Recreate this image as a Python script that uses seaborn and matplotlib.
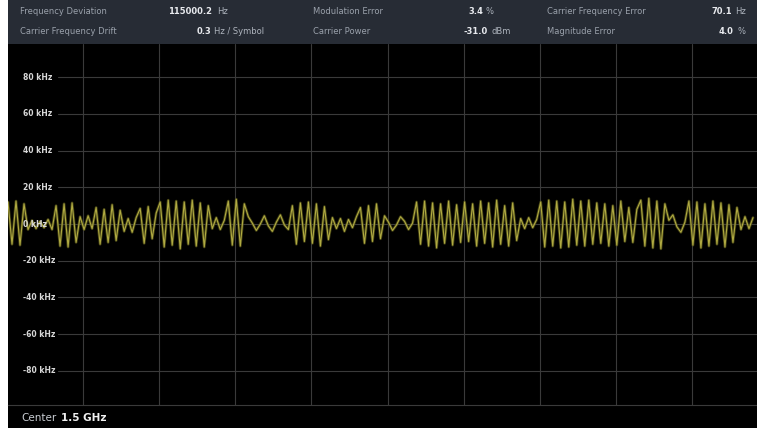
import numpy as np
import pandas as pd
import matplotlib.pyplot as plt
import seaborn as sns

# =========================
# DATA
# =========================
# header measurements: (label, value, unit)
header_row1 = [
    ("Frequency Deviation", "115000.2", "Hz"),
    ("Modulation Error", "3.4", "%"),
    ("Carrier Frequency Error", "70.1", "Hz"),
]
header_row2 = [
    ("Carrier Frequency Drift", "0.3", "Hz / Symbol"),
    ("Carrier Power", "-31.0", "dBm"),
    ("Magnitude Error", "4.0", "%"),
]

y_ticks_khz = [80, 60, 40, 20, 0, -20, -40, -60, -80]
y_tick_labels = ["80 kHz", "60 kHz", "40 kHz", "20 kHz", "0 kHz",
                 "-20 kHz", "-40 kHz", "-60 kHz", "-80 kHz"]

center_label = "Center"
center_value = "1.5 GHz"

# frequency deviation trace, one value per symbol (kHz)
deviation_khz = [
    12, -11, 12.5, -11.5, 11,
    -3, 2, -2.5, 1.5, -2, 2.5, -3,
    10, -12, 11, -12.5, 11.5, -10,
    4, -3, 4.5, -2.5,
    9, -11, 8, -10, 10.5, -9, 7.5,
    -4, 3, -4.5, 3.5,
    8.5, -10.5, 9.5, -8, 6,
    12, -12.5, 13, -11.5, 12.5, -13.5, 12, -11, 13, -12, 11.5, -12.5, 10,
    -2.5, 3.5, -3, 2,
    12.5, -11.5, 13.5, -12, 11,
    4, 0.5, -3.5, 0, 4.5, -1, -4, 1, 5, -0.5, -3,
    10, -11, 11.5, -9.5, 12, -10.5, 11, -12, 9.5, -8.5,
    3.5, -2.5, 3, -4, 2.5, -2, 4,
    9, -10.5, 10, -9.5, 11, -8,
    4.5, 1, -3.5, -0.5, 4, 1.5, -3, 0.5,
    12, -11, 12.5, -12, 11.5, -13, 11, -10.5, 12.5, -11.5, 10.5, -10, 12, -9.5,
    11, -12, 12.5, -10.5, 11.5, -12.5, 13, -11, 10, -12, 11.5, -9,
    3, -2.5, 3.5, -2, 2.5,
    12, -12.5, 13, -12, 12.5, -13, 12, -12.5, 13.5, -11.5, 12.5, -12, 13, -11, 11.5,
    -10.5, 11, -12, 10, -11.5, 12.5, -9.5, 9, -10, 8,
    13, -12, 14, -13, 12.5, -13.5, 11,
    2, 5, -1.5, -4.5, 1,
    12.5, -11.5, 12, -13, 11, -12, 12.5, -11, 11.5, -12.5, 10.5, -10, 9,
    -3, 4, -2.5, 3.5,
]

df = pd.DataFrame({"symbol": np.arange(len(deviation_khz)),
                   "deviation": deviation_khz})

# =========================
# FIGURE
# =========================
sns.set_theme(style="dark")
plt.rcParams["font.family"] = ["DejaVu Sans"]

W, H = 757, 428
fig = plt.figure(figsize=(W / 100, H / 100), dpi=100, facecolor="white")


def fx(px):
    return px / W


def fy(py):
    return 1 - py / H


# dark panel background + header strip
bg = fig.add_axes([fx(8), 0, 1 - fx(8), 1])
bg.set_axis_off()
bg.set_xlim(0, 1)
bg.set_ylim(0, 1)
bg.add_patch(plt.Rectangle((0, 0), 1, 1, color="black"))
bg.add_patch(plt.Rectangle((0, fy(44)), 1, 1 - fy(44), color="#272c35"))

# header text
label_x = [20, 313, 547]
value_x = [(168, 217), (468, 486), (712, 735)]
value_x2 = [(197, 214), (463, 491), (719, 738)]
for row, ypx, vx in [(header_row1, 12, value_x), (header_row2, 32, value_x2)]:
    for (lab, val, unit), lx, (nx, ux) in zip(row, label_x, vx):
        fig.text(fx(lx), fy(ypx), lab, color="#9aa1ab", fontsize=6,
                 va="center", ha="left")
        fig.text(fx(nx), fy(ypx), val, color="#e8eaee", fontsize=6,
                 fontweight="bold", va="center", ha="left")
        fig.text(fx(ux), fy(ypx), unit, color="#aeb4bd", fontsize=6,
                 va="center", ha="left")

# =========================
# PLOT
# =========================
ax = fig.add_axes([fx(8), fy(405), fx(757 - 8), (405 - 44) / H])
ax.set_facecolor("black")

sns.lineplot(data=df, x="symbol", y="deviation", ax=ax,
             color="#5c5a1a", linewidth=2.0, alpha=0.7)
sns.lineplot(data=df, x="symbol", y="deviation", ax=ax,
             color="#b0aa42", linewidth=0.8)

ax.set_xlim(0, len(deviation_khz))
ax.set_ylim(-98.6, 98.1)

# grid
ax.set_xticks(np.arange(18.75, len(deviation_khz), 19))
ax.set_yticks([])
ax.grid(False)
for xv in ax.get_xticks():
    ax.axvline(xv, color="#3a3a3a", linewidth=0.8, zorder=0)
for yv in y_ticks_khz:
    ax.axhline(yv, xmin=0.067, color="#3a3a3a", linewidth=0.8, zorder=0)
ax.tick_params(length=0, labelbottom=False, labelleft=False)
ax.set_xlabel("")
ax.set_ylabel("")

for yv, lab in zip(y_ticks_khz, y_tick_labels):
    ax.text(0.02, yv, lab, transform=ax.get_yaxis_transform(),
            color="#d8d8d8", fontsize=5.5, fontweight="bold",
            va="center", ha="left", zorder=5)

for side in ["top", "left", "right"]:
    ax.spines[side].set_visible(False)
ax.spines["bottom"].set_color("#3a3a3a")
ax.spines["bottom"].set_linewidth(0.8)

# footer
fig.text(fx(21), fy(418), center_label, color="#c8ccd2", fontsize=7.5,
         va="center", ha="left")
fig.text(fx(61), fy(418), center_value, color="#f0f0f0", fontsize=7.5,
         fontweight="bold", va="center", ha="left")

plt.savefig("out.png", dpi=100, facecolor="white")
plt.close()
